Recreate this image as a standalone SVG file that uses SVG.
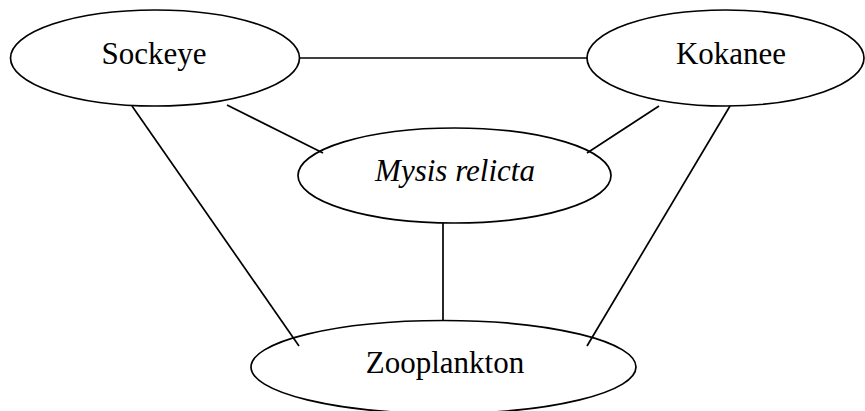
<svg xmlns="http://www.w3.org/2000/svg" width="865" height="411" viewBox="0 0 865 411">
<style>
.n{fill:none;stroke:#000;stroke-width:1.7}
.c line{stroke:#000;stroke-width:1.7}
.t{font-family:"Liberation Serif","Times New Roman",serif;font-size:31px;fill:#000;text-anchor:middle}
</style>
<rect width="865" height="411" fill="#fff"/>
<g id="connectors" class="c">
<line x1="299" y1="58" x2="587" y2="58"/>
<line x1="227" y1="105" x2="323" y2="153"/>
<line x1="659" y1="106" x2="587" y2="153"/>
<line x1="132" y1="106" x2="299" y2="346"/>
<line x1="730" y1="106" x2="587" y2="346"/>
<line x1="443" y1="223" x2="443" y2="321"/>
</g>
<g id="sockeye">
<ellipse class="n" cx="155" cy="58" rx="144.5" ry="48"/>
<text class="t" x="154" y="64">Sockeye</text>
</g>
<g id="kokanee">
<ellipse class="n" cx="725.5" cy="58" rx="138.5" ry="48"/>
<text class="t" x="731" y="64">Kokanee</text>
</g>
<g id="mysis">
<ellipse class="n" cx="454.5" cy="175.5" rx="156.5" ry="47.5"/>
<text class="t" x="455" y="181" font-style="italic">Mysis relicta</text>
</g>
<g id="zooplankton">
<ellipse class="n" cx="443.5" cy="367" rx="192.5" ry="46.5"/>
<text class="t" x="445" y="373">Zooplankton</text>
</g>
</svg>
